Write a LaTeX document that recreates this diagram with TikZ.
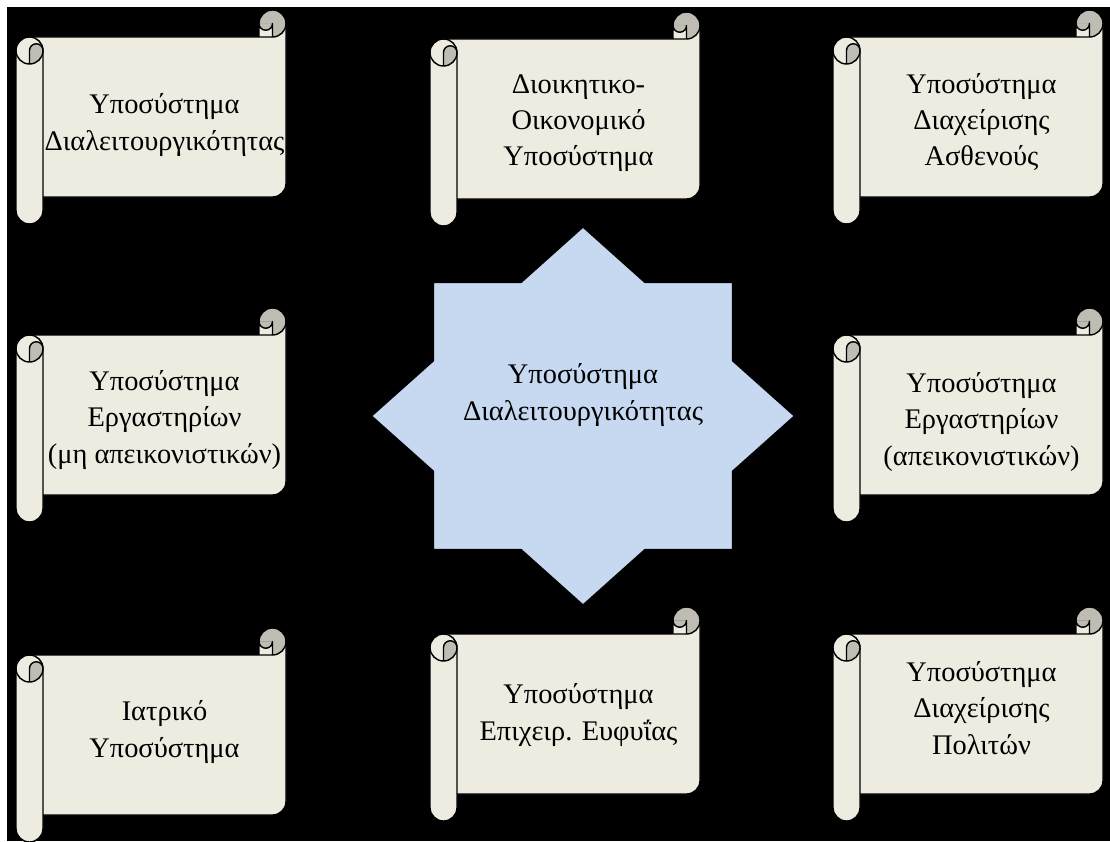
\documentclass[tikz,border=0pt]{standalone}
\usepackage{fontspec}
\setmainfont{Liberation Serif}

\definecolor{parchment}{HTML}{EEECE1}
\definecolor{curlgrey}{HTML}{BFBDB3}
\definecolor{hubblue}{HTML}{C6D9F1}

\begin{document}
\begin{tikzpicture}[x=0.025cm, y=-0.025cm, line width=1pt, line join=round,
    txt/.style={font=\fontsize{20.2}{25.8}\selectfont, align=center, inner sep=0pt}]
  \useasboundingbox (0,0) rectangle (1110,841);
  \fill[white] (0,0) rectangle (1110,841);
  \fill[black] (7,7) rectangle (1110,841);

  % scrolls: name / left / top / text y / text
  \foreach \id/\sx/\sy/\ty/\words in {
      interop/16/10/125/{Υποσύστημα\\Διαλειτουργικότητας},
      admin/430/12/123/{Διοικητικο-\\Οικονομικό\\Υποσύστημα},
      patient/833/10/122/{Υποσύστημα\\Διαχείρισης\\Ασθενούς},
      lab/16/308/420/{Υποσύστημα\\Εργαστηρίων\\(μη απεικονιστικών)},
      imaging/833/308/422/{Υποσύστημα\\Εργαστηρίων\\(απεικονιστικών)},
      clinic/16/628/732/{Ιατρικό\\Υποσύστημα},
      bi/430/607/715/{Υποσύστημα\\Επιχειρ. Ευφυΐας},
      citizen/833/607/708/{Υποσύστημα\\Διαχείρισης\\Πολιτών}} {
    \pgfmathsetmacro{\ex}{\sx+270}
    \pgfmathsetmacro{\ey}{\sy+214}
    % sheet and roll
    \fill[parchment] (\sx+13.5,\sy+27) -- (\ex-27,\sy+27) -- (\ex-27,\sy+13.5) -- (\ex,\sy+13.5)
      -- (\ex,\ey-40.5) arc[start angle=0, end angle=90, radius=13.5] -- (\sx+13.5,\ey-27) -- cycle;
    \fill[parchment] (\sx,\sy+40.5) -- (\sx,\ey-13.5) arc[start angle=180, end angle=0, radius=13.5]
      -- (\sx+27,\sy+40.5) -- cycle;
    \fill[parchment] (\sx+13.5,\sy+40.5) circle[radius=13.5];
    % rolled ends
    \fill[curlgrey] (\ex-13.5,\sy+13.5) -- (\ex-27,\sy+13.5) arc[start angle=180, end angle=450, radius=13.5] -- cycle;
    \fill[curlgrey] (\ex-13.5,\sy+13.5) arc[start angle=0, end angle=180, radius=6.75] -- cycle;
    \fill[curlgrey] (\sx+13.5,\sy+40.5) -- (\sx+13.5,\sy+54) arc[start angle=90, end angle=0, radius=13.5]
      arc[start angle=0, end angle=-180, radius=6.75] -- cycle;
    % outlines
    \draw (\sx+13.5,\sy+27) -- (\ex-13.5,\sy+27) -- (\ex-13.5,\sy+13.5)
      arc[start angle=0, end angle=180, radius=6.75] -- (\ex-27,\sy+27);
    \draw (\ex-27,\sy+13.5) arc[start angle=180, end angle=450, radius=13.5];
    \draw (\ex,\sy+13.5) -- (\ex,\ey-40.5) arc[start angle=0, end angle=90, radius=13.5] -- (\sx+27,\ey-27);
    \draw (\sx,\sy+40.5) -- (\sx,\ey-13.5) arc[start angle=180, end angle=0, radius=13.5] -- (\sx+27,\sy+40.5);
    \draw (\sx+13.5,\sy+40.5) circle[radius=13.5];
    \draw (\sx+13.5,\sy+54) -- (\sx+13.5,\sy+40.5) arc[start angle=180, end angle=360, radius=6.75];
    \node[txt] (\id) at ({(\sx+27+\ex)/2}, \ty) {\words};
  }

  % central star
  \draw[fill=hubblue, shift={(583,416)}] (0:211.5 and 189)
    \foreach \k [evaluate=\k as \rx using {mod(\k,2)==0 ? 211.5 : 161.8},
                 evaluate=\k as \ry using {mod(\k,2)==0 ? 189 : 144.6}] in {1,...,15} {
      -- ({\k*22.5}:{\rx} and {\ry})
    } -- cycle;
  \node[txt] (core) at (583,395) {Υποσύστημα\\Διαλειτουργικότητας};
\end{tikzpicture}
\end{document}
